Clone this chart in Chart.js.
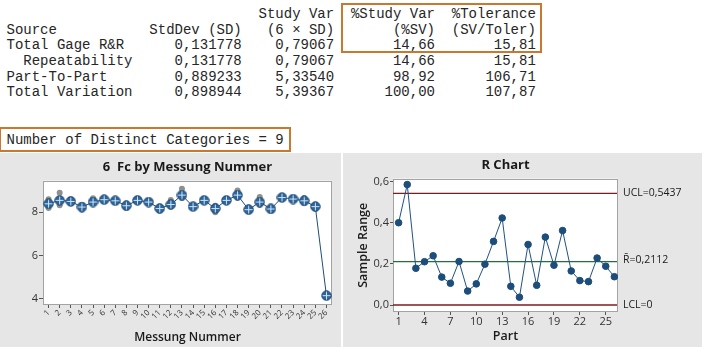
<!DOCTYPE html>
<html><head><meta charset="utf-8">
<script src="https://cdn.jsdelivr.net/npm/chart.js@4.4.0/dist/chart.umd.min.js"></script>
<style>
body{margin:0;background:#fff;width:714px;height:356px;overflow:hidden;position:relative;font-family:"Open Sans",sans-serif}
pre{position:absolute;margin:0;font-family:"Liberation Mono",monospace;font-size:14px;line-height:15.6px;color:#262626}
.box{position:absolute;border:2px solid #c8782f;box-sizing:border-box}
.panel{position:absolute;background:#e6e6e6}
canvas{display:block}
</style></head>
<body>
<pre id="tbl" style="left:6.5px;top:7.3px"></pre>
<div class="box" style="left:341px;top:3px;width:201px;height:50px"></div>
<pre id="ndc" style="left:6.5px;top:133px"></pre>
<div class="box" style="left:-1px;top:127px;width:292px;height:25px"></div>
<div class="panel" style="left:0;top:153px;width:341px;height:194px"><canvas id="c1" width="341" height="194"></canvas></div>
<div class="panel" style="left:343px;top:153px;width:359px;height:194px"><canvas id="c2" width="359" height="194"></canvas></div>
<script>
// ---- table data ----
const sources = ['Total Gage R&R', '  Repeatability', 'Part-To-Part', 'Total Variation'];
const stdDev = ['0,131778', '0,131778', '0,889233', '0,898944'];
const studyVar = ['0,79067', '0,79067', '5,33540', '5,39367'];
const pctStudyVar = ['14,66', '14,66', '98,92', '100,00'];
const pctTolerance = ['15,81', '15,81', '106,71', '107,87'];
const distinctCategories = 9;

// ---- chart 1 data ----
const parts = ['1','2','3','4','5','6','7','8','9','10','11','12','13','14','15','16','17','18','19','20','21','22','23','24','25','26'];
const meanFc = [8.39,8.55,8.50,8.24,8.47,8.58,8.53,8.30,8.55,8.47,8.17,8.36,8.79,8.26,8.55,8.17,8.55,8.79,8.12,8.47,8.15,8.68,8.61,8.53,8.26,4.15];
const measHigh = [8.60,8.90,8.60,8.35,8.65,8.65,8.58,8.40,8.58,8.52,8.27,8.56,9.08,8.31,8.57,8.30,8.60,9.00,8.22,8.70,8.24,8.74,8.67,8.65,8.35,4.22];
const measLow  = [8.20,8.32,8.42,8.14,8.41,8.51,8.47,8.19,8.51,8.42,8.07,8.25,8.66,8.22,8.53,8.00,8.50,8.67,8.03,8.34,8.07,8.62,8.56,8.42,8.16,4.08];
const fcTicks = [4, 6, 8];

// ---- chart 2 data ----
const rValues = [0.401,0.587,0.179,0.211,0.240,0.136,0.106,0.212,0.068,0.103,0.199,0.310,0.424,0.091,0.038,0.295,0.096,0.331,0.194,0.363,0.166,0.119,0.114,0.229,0.189,0.138];
const rXTicks = [1,4,7,10,13,16,19,22,25];
const rYTicks = [0, 0.2, 0.4, 0.6];
const UCL = 0.5437, RBAR = 0.2112, LCL = 0;

// ---- text ----
const lines = [];
lines.push(' '.repeat(30) + 'Study Var' + '  ' + '%Study Var' + '  ' + '%Tolerance');
lines.push('Source'.padEnd(17) + 'StdDev (SD)' + '(6 \u00d7 SD)'.padStart(11) + '(%SV)'.padStart(12) + '(SV/Toler)'.padStart(12));
for (let i = 0; i < sources.length; i++) {
  lines.push(sources[i].padEnd(20) + stdDev[i] + studyVar[i].padStart(11) + pctStudyVar[i].padStart(12) + pctTolerance[i].padStart(12));
}
document.getElementById('tbl').textContent = lines.join('\n');
document.getElementById('ndc').textContent = 'Number of Distinct Categories = ' + distinctCategories;

const FONT = '"Open Sans", sans-serif';
const comma = v => v.toFixed(1).replace('.', ',');

function makeMarker(){
  const c = document.createElement('canvas'); c.width = 11; c.height = 11;
  const g = c.getContext('2d');
  g.beginPath(); g.arc(5.5,5.5,4.7,0,Math.PI*2);
  g.fillStyle = '#2a66a0'; g.fill();
  g.lineWidth = 1; g.strokeStyle = '#153f66'; g.stroke();
  g.beginPath(); g.moveTo(5.5,1.5); g.lineTo(5.5,9.5); g.moveTo(1.5,5.5); g.lineTo(9.5,5.5);
  g.strokeStyle = '#d5e4f2'; g.stroke();
  return c;
}

const plotFrame = {
  id: 'plotFrame',
  beforeDraw(ch){
    const {ctx, chartArea:a} = ch;
    ctx.save();
    ctx.fillStyle = '#fff';
    ctx.fillRect(a.left, a.top, a.right - a.left, a.bottom - a.top);
    ctx.restore();
  },
  beforeDatasetsDraw(ch){
    const {ctx, chartArea:a} = ch;
    ctx.save();
    ctx.strokeStyle = '#a3a3a3'; ctx.lineWidth = 1;
    ctx.strokeRect(Math.round(a.left)+0.5, Math.round(a.top)+0.5, Math.round(a.right-a.left)-1, Math.round(a.bottom-a.top)-1);
    ctx.restore();
  }
};

Chart.defaults.font.family = FONT;
Chart.defaults.color = '#1a1a1a';

new Chart(document.getElementById('c1'), {
  type: 'line',
  data: {
    labels: parts,
    datasets: [
      {data: meanFc, borderColor: '#1f4e79', borderWidth: 1, pointStyle: makeMarker(), pointRadius: 5, tension: 0},
      {data: measHigh, showLine: false, pointRadius: 3, pointBackgroundColor: '#8f8f8f', pointBorderWidth: 0},
      {data: measLow, showLine: false, pointRadius: 3, pointBackgroundColor: '#8f8f8f', pointBorderWidth: 0}
    ]
  },
  options: {
    responsive: false, animation: false, devicePixelRatio: 1,
    layout: {padding: {left: 0, right: 9, top: 0, bottom: 0}},
    plugins: {
      legend: {display: false}, tooltip: {enabled: false},
      title: {display: true, fullSize: false, text: '6  Fc by Messung Nummer', font: {size: 13, weight: 'bold'}, color: '#1a1a1a', padding: {top: 6, bottom: 6}}
    },
    scales: {
      x: {
        type: 'category', offset: true,
        border: {display: false},
        grid: {drawOnChartArea: false, tickLength: 3, color: '#555'},
        ticks: {minRotation: 45, maxRotation: 45, autoSkip: false, font: {size: 8}, color: '#333', padding: 0},
        title: {display: true, text: 'Messung Nummer', font: {size: 12, weight: '600'}, padding: {top: 0, bottom: 2}},
        afterFit(s){ s.height = 42; }
      },
      y: {
        min: 3.72, max: 9.46,
        border: {display: false},
        afterBuildTicks(s){ s.ticks = fcTicks.map(v => ({value: v})); },
        grid: {drawOnChartArea: false, tickLength: 4, color: '#555'},
        ticks: {font: {size: 11}, color: '#333', padding: 1},
        afterFit(s){ s.width = 43; }
      }
    }
  },
  plugins: [plotFrame]
});

const controlLines = {
  id: 'controlLines',
  beforeDatasetsDraw(ch){
    const {ctx, chartArea:a, scales:{y}} = ch;
    ctx.save();
    ctx.lineWidth = 1.3;
    [[UCL,'#7d1d1d'],[RBAR,'#24703a'],[LCL,'#7d1d1d']].forEach(([v,c]) => {
      const py = y.getPixelForValue(v);
      ctx.strokeStyle = c;
      ctx.beginPath(); ctx.moveTo(a.left, py); ctx.lineTo(a.right - 1, py); ctx.stroke();
    });
    ctx.restore();
  },
  afterDraw(ch){
    const {ctx, chartArea:a, scales:{y}} = ch;
    ctx.save();
    ctx.font = '10.5px ' + FONT; ctx.fillStyle = '#1a1a1a';
    ctx.textBaseline = 'middle'; ctx.textAlign = 'left';
    ctx.fillText('UCL=' + UCL.toFixed(4).replace('.', ','), a.right + 5, y.getPixelForValue(UCL));
    ctx.fillText('R\u0304=' + RBAR.toFixed(4).replace('.', ','), a.right + 5, y.getPixelForValue(RBAR) - 2);
    ctx.fillText('LCL=' + LCL, a.right + 5, y.getPixelForValue(LCL));
    ctx.restore();
  }
};

new Chart(document.getElementById('c2'), {
  type: 'line',
  data: {
    datasets: [
      {data: rValues.map((v,i) => ({x: i + 1, y: v})), borderColor: '#22527f', borderWidth: 1, pointRadius: 3.3, pointBackgroundColor: '#1d4d7a', pointBorderColor: '#1d4d7a', tension: 0}
    ]
  },
  options: {
    responsive: false, animation: false, devicePixelRatio: 1,
    layout: {padding: {left: 0, right: 84, top: 0, bottom: 0}},
    plugins: {
      legend: {display: false}, tooltip: {enabled: false},
      title: {display: true, fullSize: false, text: 'R Chart', font: {size: 13, weight: 'bold'}, color: '#1a1a1a', padding: {top: 4, bottom: 6}}
    },
    scales: {
      x: {
        type: 'linear', min: 0.35, max: 26.42,
        border: {display: false},
        afterBuildTicks(s){ s.ticks = rXTicks.map(v => ({value: v})); },
        grid: {drawOnChartArea: false, tickLength: 3, color: '#555'},
        ticks: {font: {size: 11}, color: '#333', padding: 0, maxRotation: 0},
        title: {display: true, text: 'Part', font: {size: 12.5, weight: '600'}, padding: {top: 0, bottom: 3}},
        afterFit(s){ s.height = 35; }
      },
      y: {
        min: -0.034, max: 0.616,
        border: {display: false},
        afterBuildTicks(s){ s.ticks = rYTicks.map(v => ({value: v})); },
        grid: {drawOnChartArea: false, tickLength: 3, color: '#555'},
        ticks: {font: {size: 11}, color: '#333', padding: 1, callback: v => comma(v)},
        title: {display: true, text: 'Sample Range', font: {size: 12.5, weight: '600'}, padding: {top: 13, bottom: 0}},
        afterFit(s){ s.width = 50; }
      }
    }
  },
  plugins: [plotFrame, controlLines]
});
</script>
</body></html>
